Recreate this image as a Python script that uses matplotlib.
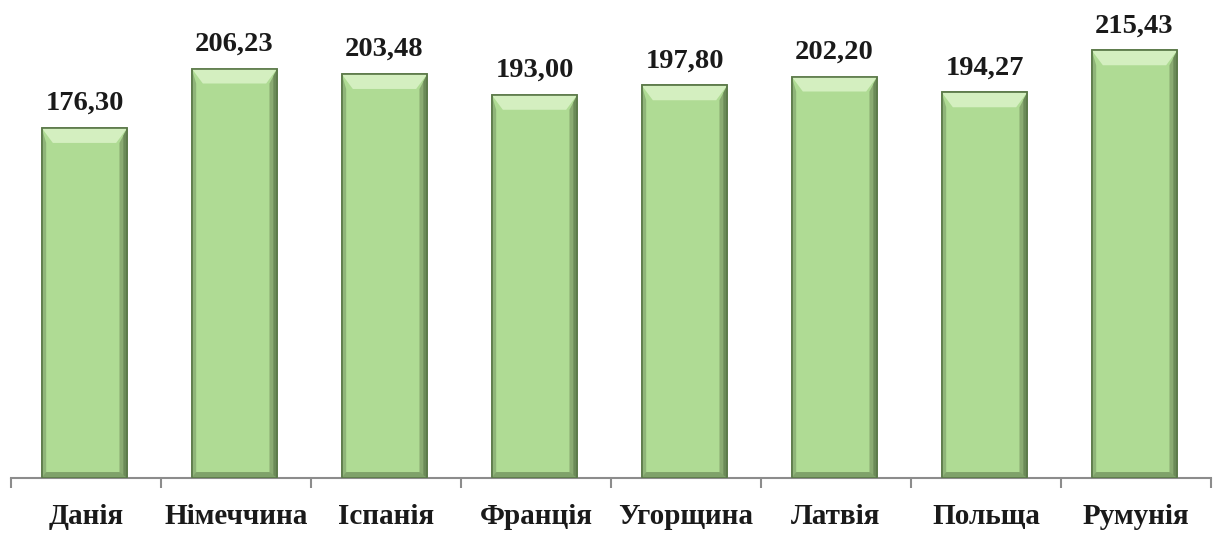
import numpy as np
import matplotlib.pyplot as plt
from matplotlib.patches import Polygon

# data
countries = ["Данія", "Німеччина", "Іспанія", "Франція", "Угорщина", "Латвія", "Польща", "Румунія"]
values = [176.30, 206.23, 203.48, 193.00, 197.80, 202.20, 194.27, 215.43]
labels = ["176,30", "206,23", "203,48", "193,00", "197,80", "202,20", "194,27", "215,43"]

plt.rcParams['font.family'] = ['Liberation Serif', 'DejaVu Serif']

fig = plt.figure(figsize=(12.16, 5.34), dpi=100)
ax = fig.add_axes([11/1216, 56/534, 1200/1216, 478/534])

x = np.arange(len(countries))
w = 0.57
bars = ax.bar(x - 0.01, values, width=w, color='#afdb94', edgecolor='#6a8a55', linewidth=1.2, zorder=2)

ax.set_xlim(-0.5, len(countries) - 0.5)
ax.set_ylim(0, 240.8)

# bevel look on each bar
for b in bars:
    x0, y0 = b.get_x(), b.get_y()
    bw, bh = b.get_width(), b.get_height()
    dx = bw * 0.13
    dy = 7.5
    # dark right side, two steps
    ax.add_patch(Polygon([[x0 + bw - dx * 0.7, y0 + 2], [x0 + bw, y0], [x0 + bw, bh], [x0 + bw - dx * 0.7, bh - dy]],
                         closed=True, color='#8aab72', lw=0, zorder=3))
    ax.add_patch(Polygon([[x0 + bw - dx * 0.35, y0 + 1], [x0 + bw, y0], [x0 + bw, bh], [x0 + bw - dx * 0.35, bh - dy / 2]],
                         closed=True, color='#6b8a58', lw=0, zorder=3))
    # dark left edge
    ax.add_patch(Polygon([[x0, y0], [x0 + dx * 0.4, y0 + 2], [x0 + dx * 0.4, bh - dy], [x0, bh]],
                         closed=True, color='#8fb579', lw=0, zorder=3))
    # light top bevel
    ax.add_patch(Polygon([[x0, bh], [x0 + bw, bh], [x0 + bw - dx, bh - dy], [x0 + dx, bh - dy]],
                         closed=True, color='#d4efc0', lw=0, zorder=3))
    # bottom shade
    ax.add_patch(Polygon([[x0, y0], [x0 + bw, y0], [x0 + bw - dx * 0.7, y0 + 3], [x0 + dx * 0.4, y0 + 3]],
                         closed=True, color='#7fa26a', lw=0, zorder=3))
    ax.add_patch(plt.Rectangle((x0, y0), bw, bh, fill=False, ec='#5a7748', lw=1.2, zorder=4))

for xi, v, lab in zip(x, values, labels):
    ax.text(xi - 0.01, v + 6, lab, ha='center', va='bottom', fontsize=20.5, fontweight='bold', color='#1a1a1a')

for s in ['top', 'right', 'left']:
    ax.spines[s].set_visible(False)
ax.spines['bottom'].set_color('#8c8c8c')
ax.spines['bottom'].set_linewidth(1.5)
ax.set_yticks([])
ax.set_xticks(np.arange(-0.5, len(countries)), minor=False)
ax.set_xticklabels([])
ax.tick_params(axis='x', which='major', length=7, width=1.5, color='#8c8c8c', direction='out')
ax.set_xticks(x, minor=True)
ax.set_xticklabels(countries, minor=True, fontsize=21, fontweight='bold', color='#1a1a1a')
ax.tick_params(axis='x', which='minor', length=0, pad=18)

fig.savefig('out.png', dpi=100)
